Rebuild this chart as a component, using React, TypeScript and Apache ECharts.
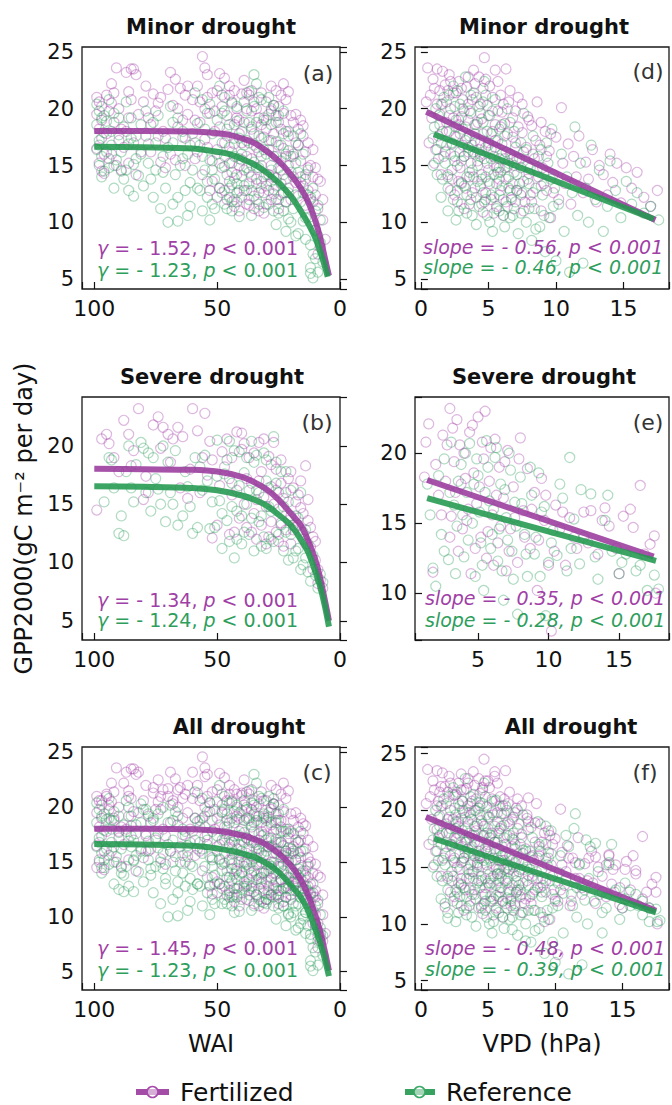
import React, { useEffect, useRef } from 'react';
import * as echarts from 'echarts';

// ---------------- DATA ----------------
// Minor drought, WAI vs GPP2000
const minorWaiFert: number[][] = [
  [99,21.0],[98,20.6],[97,20.2],[99,19.5],[98,18.2],[97,17.4],[99,16.5],[98,15.2],[97,14.5],[96,14.3],
  [95,21.2],[93,20.5],[91,23.6],[94,19.8],[92,18.8],[90,17.2],[93,16.0],[91,15.0],[89,14.6],[92,21.4],
  [87,23.2],[85,23.5],[84,23.5],[83,23.0],[86,21.5],[85,20.8],[82,19.5],[87,18.0],[84,17.0],[86,15.2],[83,14.2],[81,16.2],
  [79,22.0],[76,21.3],[74,20.5],[78,19.2],[72,18.0],[75,17.0],[77,16.2],[73,15.3],[71,14.8],[70,21.7],
  [69,23.2],[67,22.6],[65,21.8],[63,21.2],[68,20.3],[62,19.5],[66,18.4],[64,17.5],[61,16.8],[67,15.5],[63,15.0],[60,20.8],
  [56,24.6],[55,23.6],[54,23.0],[58,22.0],[52,21.4],[57,20.6],[53,19.6],[59,19.0],[51,18.0],[55,17.3],[58,16.2],[52,15.4],[56,14.2],[53,12.8],[50,12.2],[54,21.0],
  [49,23.1],[47,22.7],[45,22.0],[48,21.2],[44,20.6],[42,20.0],[46,19.4],[43,18.6],[41,17.8],[47,17.0],[44,16.2],[40,15.5],[48,14.8],[45,13.6],[42,12.6],[46,12.0],[43,11.4],[41,11.0],[49,13.0],[44,14.4],[47,15.8],[42,19.2],[40,21.3],
  [39,22.5],[37,21.2],[35,20.6],[38,20.0],[33,19.2],[36,18.2],[31,17.5],[34,16.6],[38,15.8],[32,15.0],[36,14.0],[30,13.2],[35,12.3],[37,11.5],[33,11.0],[31,10.8],[39,12.8],[34,13.8],[32,18.6],[36,21.6],
  [28,22.0],[26,21.6],[24,21.2],[27,20.3],[29,19.5],[25,18.8],[22,18.0],[28,17.2],[23,16.5],[26,15.8],[21,15.0],[29,14.2],[24,13.4],[27,12.5],[22,11.8],[25,11.2],[23,22.2],[21,21.5],[28,12.0],[26,13.9],
  [19,18.8],[17,18.2],[15,17.6],[18,17.0],[14,16.2],[16,15.4],[13,14.8],[19,14.0],[15,13.2],[17,12.3],[14,11.5],[12,15.0],[16,19.0],[13,12.8],
  [11,14.0],[8,13.6],[10,12.4],[9,11.2],[7,10.2],[10,9.3],[6,8.5],[8,7.8],[9,7.2],[11,11.8],
  [97,19.0],[96,16.0],[95,17.8],[94,15.6],[93,22.2],[90,20.0],[89,18.2],[88,16.6],[86,19.2],[80,20.6],[79,17.6],[77,18.6],
  [75,19.8],[73,21.0],[71,17.4],[69,16.0],[66,20.0],[64,19.0],[62,22.0],[60,17.8],[59,15.6],[57,18.8],[55,20.0],[54,16.6],
  [52,13.6],[51,19.8],[50,21.6],[50,16.4],[49,18.4],[48,20.2],[47,12.8],[46,17.6],[45,15.2],[45,21.2],[44,11.8],[43,16.9],
  [43,21.6],[42,14.2],[41,19.0],[41,15.0],[40,12.2],[40,17.0],[39,18.8],[39,14.6],[38,21.4],[38,11.6],[37,17.0],[37,13.4],
  [36,19.8],[36,15.6],[35,17.8],[35,11.2],[34,20.0],[34,14.8],[33,12.6],[33,16.2],[32,21.4],[32,13.0],[31,19.0],[31,14.0],
  [30,18.2],[30,11.6],[30,20.6],[29,16.4],[29,12.8],[28,19.8],[28,15.0],[27,17.8],[27,14.0],[26,19.4],[26,12.0],[25,16.8],
  [25,20.2],[24,14.6],[24,18.2],[23,12.6],[23,19.6],[22,15.8],[22,20.8],[21,17.6],[21,13.0],[20,19.4],[20,15.8],[20,12.0],
  [19,16.0],[18,19.5],[18,13.5],[17,16.8],[16,14.0],[15,18.5],[14,13.8],[13,17.0],[12,12.0],[11,16.4],[10,14.8],[9,13.8],[7,12.0]
];
const minorWaiRef: number[][] = [
  [99,20.4],[98,19.8],[97,19.2],[99,18.6],[96,17.9],[98,17.2],[99,16.4],[97,15.8],[98,15.0],[96,14.5],[97,14.0],
  [94,20.8],[92,19.6],[95,18.9],[90,17.7],[93,16.8],[91,15.5],[94,14.8],[89,14.5],[92,13.0],
  [87,20.6],[85,19.2],[88,18.4],[83,17.6],[86,16.9],[81,16.0],[84,15.1],[82,14.1],[88,13.8],[86,12.8],[84,12.3],
  [79,19.8],[76,18.8],[74,17.6],[78,16.9],[72,15.8],[75,14.6],[77,13.8],[71,13.0],[73,11.2],[70,10.0],
  [69,20.2],[66,19.2],[64,18.0],[68,17.0],[62,16.0],[65,15.0],[67,14.2],[61,13.5],[63,12.8],[68,11.6],[62,10.6],[66,10.1],
  [59,21.4],[56,20.8],[54,19.6],[58,18.7],[52,17.8],[57,16.8],[53,15.5],[55,14.6],[51,13.8],[58,13.0],[54,12.2],[52,11.6],[56,11.0],[53,10.2],
  [49,22.0],[47,21.0],[44,20.5],[48,19.6],[42,18.9],[46,18.2],[41,17.4],[45,16.6],[43,15.8],[47,14.9],[40,14.1],[44,13.3],[48,12.6],[42,11.8],[46,11.2],[41,10.5],[45,12.2],[43,13.9],
  [35,23.0],[34,22.2],[37,21.5],[32,20.8],[38,19.8],[31,19.2],[36,18.4],[33,17.6],[39,16.8],[30,16.0],[35,15.3],[37,14.4],[32,13.6],[38,12.8],[34,12.0],[31,11.3],[36,10.6],[33,14.8],
  [29,21.0],[27,20.3],[25,19.4],[28,18.6],[23,17.8],[26,17.1],[21,16.3],[24,15.4],[28,14.6],[22,13.8],[27,12.9],[25,12.0],[23,11.0],[21,10.3],[26,9.8],[22,9.2],
  [19,17.6],[17,16.8],[15,16.0],[18,15.2],[14,14.2],[16,13.5],[13,12.4],[19,11.2],[15,10.1],[17,9.0],[14,8.5],
  [11,13.0],[9,11.5],[12,10.5],[10,9.3],[8,8.2],[11,7.2],[7,6.5],[12,6.0],[12,5.5],[11,5.1],
  [98,16.8],[96,19.4],[95,16.2],[93,18.0],[92,15.0],[90,19.2],[89,16.2],[87,14.6],[85,17.4],[83,15.6],[81,18.6],[80,13.2],
  [78,15.2],[76,12.2],[74,19.4],[72,14.4],[70,16.6],[68,18.8],[66,12.2],[64,15.6],[63,17.4],[61,11.4],[60,14.6],[59,17.0],
  [57,12.8],[56,15.8],[55,18.2],[54,13.6],[53,20.4],[52,14.6],[51,11.2],[50,16.0],[50,19.0],[49,13.0],[49,15.2],[48,17.0],
  [47,11.6],[47,19.8],[46,14.2],[45,13.0],[45,18.6],[44,15.2],[44,11.0],[43,17.4],[43,12.0],[42,20.2],[42,13.4],[41,15.6],
  [41,12.8],[40,18.0],[40,16.0],[39,13.2],[39,20.6],[38,14.8],[38,17.2],[37,12.0],[37,18.8],[36,15.0],[36,12.8],[35,16.8],
  [35,20.2],[34,13.4],[34,18.8],[33,11.6],[33,21.0],[32,15.8],[32,17.4],[31,12.6],[31,16.4],[30,14.2],[30,19.0],[29,11.6],
  [29,17.2],[28,13.6],[28,20.0],[27,15.8],[27,11.0],[26,13.2],[26,18.8],[25,14.8],[25,10.8],[24,16.8],[24,12.4],[23,14.2],
  [23,19.8],[22,16.0],[22,11.8],[21,18.0],[21,12.6],[20,14.4],[20,10.0],[19,15.8],[18,12.4],[18,8.8],[17,14.4],[16,11.8],
  [16,17.8],[15,12.6],[14,10.4],[13,14.6],[12,8.0],[12,12.2],[10,11.0],[9,8.8],[8,10.2],[10,6.8],[9,5.6]
];
// Severe drought, WAI vs GPP2000
const severeWaiFert: number[][] = [
  [99,14.5],[95,21.0],[94,20.2],[92,19.0],[88,22.2],[85,18.3],[82,23.2],[78,16.0],[80,15.4],[76,21.8],[74,22.5],[72,21.6],
  [70,21.0],[68,20.6],[66,21.6],[65,16.4],[62,15.5],[60,23.2],[58,21.3],[56,19.0],[55,22.8],[54,17.5],[52,18.8],[52,12.1],
  [50,13.2],[48,19.5],[46,20.6],[45,17.2],[44,15.8],[43,12.6],[42,21.2],[40,21.1],[40,19.7],[39,15.0],[38,13.0],[37,19.0],
  [36,16.8],[35,14.2],[34,12.0],[33,20.3],[32,17.8],[31,15.6],[30,11.6],[29,19.1],[28,16.5],[28,13.5],[27,20.3],[26,18.0],
  [25,14.6],[25,11.8],[24,16.8],[23,15.5],[22,12.8],[21,17.2],[20,14.0],[19,16.4],[18,13.0],[17,15.8],[16,14.7],[15,12.0],
  [14,18.3],[13,13.6],[12,11.3],[11,12.2],[10,10.2],[9,9.4],[8,8.5],[7,7.8],
  [97,20.6],[90,17.8],[86,21.0],[84,19.6],[79,17.4],[73,19.8],[69,18.6],[64,20.8],[61,18.0],[57,16.0],[53,20.4],[49,16.6],
  [47,18.2],[45,12.4],[44,19.0],[42,16.2],[41,13.8],[39,20.2],[38,17.2],[36,12.6],[35,19.4],[34,15.4],[33,17.0],[32,13.2],
  [31,20.6],[30,14.8],[29,12.2],[28,18.4],[27,15.0],[26,12.6],[26,16.2],[24,18.8],[24,13.4],[23,11.4],[22,16.0],[21,13.6],
  [20,17.8],[20,11.6],[19,12.8],[18,15.2],[17,13.2],[16,17.0],[15,14.2],[14,11.6],[13,15.4],[12,13.0],[11,9.4],[10,11.8],[9,8.2]
];
const severeWaiRef: number[][] = [
  [94,19.0],[93,18.8],[90,12.5],[88,12.3],[87,17.8],[85,16.4],[84,15.2],[81,20.3],[80,19.8],[78,19.4],[77,14.4],[75,17.2],
  [74,16.3],[72,20.0],[71,13.5],[70,18.6],[68,15.0],[66,13.2],[64,14.0],[62,16.5],[60,12.5],[58,13.0],[57,18.2],[55,19.2],
  [53,12.9],[52,15.2],[50,20.5],[49,15.3],[48,11.2],[47,17.6],[46,13.6],[45,20.4],[44,16.8],[43,10.4],[42,14.4],[41,19.5],
  [40,11.6],[39,17.7],[38,15.0],[37,12.4],[36,20.4],[35,18.6],[34,16.2],[33,13.5],[32,11.4],[31,19.4],[30,17.0],[29,14.8],
  [28,12.0],[27,20.8],[26,18.6],[25,16.0],[24,13.2],[23,11.0],[22,17.8],[21,15.2],[20,12.4],[19,10.4],[18,14.0],[17,11.2],
  [16,16.0],[15,9.8],[14,12.8],[13,9.2],[12,8.4],[11,10.6],[10,8.9],[9,7.8],[8,9.0],[7,8.3],
  [96,15.2],[92,16.4],[89,14.0],[86,20.0],[83,18.4],[79,16.0],[76,19.0],[73,15.0],[69,16.0],[67,19.6],[63,17.8],[61,14.8],
  [59,19.0],[56,16.2],[54,17.0],[51,13.0],[50,17.4],[48,14.2],[46,18.8],[45,11.8],[44,14.8],[43,19.6],[42,12.0],[41,16.6],
  [40,14.0],[39,12.6],[38,19.0],[37,16.2],[36,13.8],[35,11.0],[34,19.2],[33,16.0],[32,14.0],[31,12.2],[30,18.8],[30,11.2],
  [29,16.4],[28,14.4],[27,11.8],[26,16.8],[25,12.4],[24,17.8],[23,14.8],[22,12.6],[21,10.2],[20,16.2],[19,13.2],[18,11.0],
  [17,13.8],[16,9.4],[15,12.6],[14,10.4],[13,11.6]
];
// Minor drought, VPD vs GPP2000
const minorVpdFert: number[][] = [
  [0.5,23.6],[0.4,20.6],[0.8,19.2],[1.0,21.8],[1.2,23.5],[1.3,17.6],[1.5,20.4],[1.6,23.3],[1.7,15.8],[1.8,22.1],[1.9,18.8],
  [2.0,14.2],[2.1,23.0],[2.2,20.0],[2.3,16.9],[2.4,21.4],[2.5,12.4],[2.6,19.0],[2.7,15.0],[2.8,22.4],[2.9,17.8],[3.0,13.5],
  [3.1,20.8],[3.2,11.2],[3.3,18.4],[3.4,21.9],[3.5,16.2],[3.6,14.0],[3.7,19.6],[3.8,12.6],[3.9,23.4],[4.0,17.2],[4.1,21.0],
  [4.2,15.4],[4.3,22.8],[4.4,13.2],[4.5,19.1],[4.6,10.9],[4.7,24.5],[4.8,16.6],[4.9,20.3],[5.0,14.6],[5.1,22.0],[5.2,12.0],
  [5.3,18.0],[5.4,15.8],[5.5,23.4],[5.6,11.4],[5.7,19.8],[5.8,13.8],[5.9,21.2],[6.0,16.9],[6.1,10.6],[6.2,18.7],[6.3,23.5],
  [6.4,14.9],[6.5,20.6],[6.6,12.8],[6.8,17.5],[6.9,11.2],[7.0,19.8],[7.1,15.6],[7.2,21.0],[7.3,13.4],[7.5,17.9],[7.6,16.2],
  [7.7,11.8],[7.9,19.3],[8.0,14.3],[8.1,12.4],[8.2,18.5],[8.4,15.6],[8.5,13.0],[8.6,20.6],[8.8,16.8],[8.9,11.0],[9.0,14.8],
  [9.2,18.0],[9.3,12.8],[9.5,16.3],[9.6,10.4],[9.8,14.2],[10.0,17.5],[10.2,12.0],[10.4,20.1],[10.5,15.2],[10.7,13.4],[10.9,16.9],
  [11.1,11.6],[11.3,15.8],[11.5,14.0],[11.7,17.6],[12.0,12.6],[12.2,15.3],[12.4,13.8],[12.7,16.4],[13.0,11.8],[13.2,15.0],
  [13.5,14.2],[13.8,12.4],[14.0,16.0],[14.2,13.5],[14.5,15.2],[14.8,11.7],[15.2,14.8],[15.6,13.0],[16.0,14.4],[16.5,12.2],
  [17.0,11.4],[17.5,12.8],
  [1.4,19.5],[2.0,21.6],[2.6,17.5],[3.0,19.3],[3.5,20.4],[4.0,18.6],[4.4,16.0],[5.0,17.0],[5.5,18.6],[6.0,19.7],[3.2,15.8],
  [2.2,12.8],[4.8,12.6],[5.8,14.8],[6.6,16.0],[7.4,12.4],[1.1,16.4],[2.8,13.6],[3.8,16.8],[4.6,21.8],
  [0.6,17.0],[0.7,21.2],[0.9,22.6],[1.0,15.2],[1.2,20.4],[1.4,21.6],[1.5,14.2],[1.6,18.0],[1.8,16.2],[1.9,20.6],[2.1,18.0],
  [2.2,22.4],[2.3,13.8],[2.4,19.2],[2.5,15.8],[2.6,21.4],[2.7,11.8],[2.8,18.6],[2.9,14.8],[3.0,21.8],[3.1,16.8],[3.2,19.8],
  [3.3,13.0],[3.4,17.4],[3.5,22.8],[3.6,11.6],[3.7,15.2],[3.8,20.8],[3.9,14.0],[4.0,22.2],[4.1,12.2],[4.2,18.8],[4.3,16.4],
  [4.4,20.4],[4.5,14.2],[4.6,17.8],[4.7,11.8],[4.8,22.6],[4.9,15.2],[5.0,19.4],[5.1,13.4],[5.2,16.4],[5.3,21.0],[5.4,10.8],
  [5.5,17.2],[5.6,14.8],[5.7,22.4],[5.8,12.4],[5.9,18.4],[6.0,13.2],[6.1,20.4],[6.2,15.6],[6.3,11.8],[6.4,17.8],[6.5,14.0],
  [6.6,21.6],[6.7,12.0],[6.8,19.2],[6.9,15.0],[7.0,17.0],[7.1,12.8],[7.2,18.4],[7.4,14.8],[7.5,20.4],[7.6,11.0],[7.8,16.6],
  [7.9,13.8],[8.0,19.0],[8.2,11.8],[8.3,16.0],[8.5,17.2],[8.7,14.0],[8.9,18.8],[9.1,13.4],[9.3,15.8],[9.6,17.8],[9.8,12.6]
];
const minorVpdRef: number[][] = [
  [0.9,17.4],[1.1,20.0],[1.3,15.6],[1.4,18.6],[1.6,13.8],[1.7,21.0],[1.9,16.8],[2.0,11.0],[2.1,19.4],[2.3,14.6],[2.4,22.0],
  [2.5,17.6],[2.6,10.2],[2.7,12.8],[2.9,20.4],[3.0,15.4],[3.1,18.2],[3.2,13.2],[3.3,22.8],[3.4,10.8],[3.5,16.6],[3.6,19.8],
  [3.7,12.0],[3.8,14.6],[3.9,21.4],[4.0,17.8],[4.1,9.8],[4.2,13.6],[4.3,20.2],[4.4,15.8],[4.5,11.6],[4.6,18.8],[4.7,22.4],
  [4.8,14.0],[4.9,10.6],[5.0,16.8],[5.1,19.4],[5.2,12.4],[5.3,9.2],[5.4,15.0],[5.5,20.8],[5.6,13.4],[5.7,17.2],[5.8,11.0],
  [5.9,14.4],[6.0,18.6],[6.1,12.0],[6.2,9.6],[6.3,16.2],[6.4,20.0],[6.5,13.0],[6.6,10.4],[6.8,15.6],[6.9,18.0],[7.0,11.8],
  [7.1,14.2],[7.2,9.0],[7.4,17.0],[7.5,12.6],[7.6,19.6],[7.8,10.0],[7.9,15.0],[8.0,13.4],[8.2,8.4],[8.3,17.6],[8.4,11.2],
  [8.6,14.6],[8.8,9.6],[8.9,16.4],[9.0,12.4],[9.2,7.4],[9.4,15.2],[9.5,10.4],[9.7,18.2],[9.9,13.0],[10.0,6.6],[10.2,11.6],
  [10.4,16.0],[10.6,9.2],[10.8,14.0],[11.0,5.6],[11.2,12.6],[11.4,18.4],[11.6,10.6],[11.8,15.2],[12.0,6.4],[12.2,13.0],
  [12.4,10.0],[12.6,16.8],[12.9,12.0],[13.2,14.6],[13.5,9.2],[13.8,11.4],[14.0,15.4],[14.4,12.8],[14.8,10.4],[15.2,13.6],
  [15.6,11.6],[16.0,12.6],[16.5,10.8],[17.0,11.4],[17.6,10.2],
  [1.5,17.0],[2.2,16.0],[2.8,19.0],[3.4,14.0],[4.0,16.0],[4.6,12.6],[5.2,17.8],[5.8,15.6],[3.0,11.6],[2.0,13.0],[4.4,19.6],
  [5.4,14.2],[6.2,14.8],[6.8,13.4],[1.2,14.2],[3.6,17.6],[4.8,21.2],[2.5,20.2],
  [0.9,15.0],[1.0,18.4],[1.2,16.4],[1.3,19.4],[1.5,12.2],[1.6,20.4],[1.8,15.2],[1.9,18.0],[2.0,14.0],[2.1,21.2],[2.3,17.0],
  [2.4,12.0],[2.5,15.4],[2.6,18.4],[2.7,21.6],[2.8,11.0],[2.9,16.2],[3.0,13.4],[3.1,20.0],[3.2,15.8],[3.3,17.2],[3.4,12.4],
  [3.5,19.0],[3.6,14.4],[3.7,21.2],[3.8,10.6],[3.9,16.2],[4.0,13.0],[4.1,18.6],[4.2,15.0],[4.3,11.4],[4.4,17.0],[4.5,13.8],
  [4.6,20.6],[4.7,15.6],[4.8,12.0],[4.9,18.0],[5.0,13.6],[5.1,10.0],[5.2,15.6],[5.3,19.8],[5.4,12.2],[5.5,16.6],[5.6,11.2],
  [5.7,14.4],[5.8,18.2],[5.9,12.8],[6.0,16.0],[6.1,10.6],[6.2,17.6],[6.3,13.8],[6.4,11.4],[6.5,15.2],[6.6,18.8],[6.7,12.2],
  [6.8,10.6],[6.9,14.4],[7.0,16.6],[7.1,12.8],[7.3,15.6],[7.4,10.8],[7.6,13.6],[7.8,16.4],[8.0,11.2],[8.1,14.8],[8.3,12.6],
  [8.5,9.4],[8.7,15.8],[8.9,13.2],[9.1,10.6],[9.3,17.0],[9.6,13.8],[9.8,11.4]
];
// Severe drought, VPD vs GPP2000
const severeVpdFert: number[][] = [
  [1.2,18.3],[1.5,22.1],[1.8,11.5],[2.2,17.0],[2.5,21.3],[2.8,20.6],[3.0,23.2],[3.1,15.5],[3.3,19.4],[3.5,22.4],[3.6,13.0],
  [3.8,17.8],[4.0,20.0],[4.2,15.2],[4.4,21.5],[4.5,11.4],[4.7,18.6],[4.9,16.4],[5.0,22.6],[5.2,14.0],[5.3,20.8],[5.5,23.0],
  [5.6,12.5],[5.8,18.0],[6.0,15.6],[6.2,21.0],[6.4,13.6],[6.5,19.0],[6.8,16.8],[7.0,11.6],[7.1,20.2],[7.3,14.6],[7.5,17.6],
  [7.8,12.2],[8.0,21.1],[8.2,15.9],[8.5,18.9],[8.7,13.2],[9.0,17.2],[9.2,10.2],[9.5,18.2],[9.7,15.2],[10.0,12.0],[10.2,7.3],
  [10.5,16.3],[10.8,14.6],[11.2,12.0],[11.5,15.4],[12.0,13.2],[12.5,15.8],[13.0,15.9],[13.5,12.8],[14.0,16.1],[14.3,14.8],
  [15.0,11.4],[15.3,15.5],[16.0,14.7],[16.5,17.7],[17.2,13.5],[17.5,14.1],[17.6,10.0],
  [1.3,20.8],[2.0,19.2],[2.4,15.6],[2.7,18.0],[3.0,14.0],[3.2,21.8],[3.4,17.2],[3.7,20.6],[3.9,14.6],[4.1,18.2],[4.3,16.0],
  [4.6,22.0],[4.8,13.2],[5.1,17.6],[5.4,19.6],[5.7,14.4],[5.9,20.4],[6.1,12.0],[6.3,17.0],[6.6,14.8],[6.9,19.4],[7.2,13.0],
  [7.6,15.4],[7.9,19.6],[8.3,14.0],[8.8,16.0],[9.3,13.8],[9.8,17.0],[10.4,13.0],[11.0,15.8],[11.8,14.0],[12.8,13.6],
  [13.8,15.2],[14.8,13.2],[15.8,16.0],[16.8,12.8]
];
const severeVpdRef: number[][] = [
  [1.4,17.8],[1.8,11.8],[2.0,10.5],[2.4,14.2],[2.6,19.6],[2.9,12.4],[3.1,20.8],[3.3,16.3],[3.5,14.8],[3.8,19.2],[4.0,12.6],
  [4.2,17.2],[4.4,20.7],[4.6,15.0],[4.8,11.2],[5.0,18.4],[5.2,13.6],[5.4,10.2],[5.6,20.9],[5.8,16.6],[6.0,14.2],[6.2,19.7],
  [6.4,12.3],[6.6,17.8],[6.8,9.5],[7.0,15.4],[7.2,20.0],[7.4,13.0],[7.6,16.5],[7.8,8.5],[8.0,18.3],[8.3,14.2],[8.5,11.2],
  [8.8,17.0],[9.0,12.8],[9.3,18.6],[9.5,15.8],[9.8,8.4],[10.0,12.2],[10.3,14.5],[10.6,12.7],[11.0,16.8],[11.3,11.6],[11.5,19.7],
  [11.8,15.3],[12.2,12.1],[12.5,14.0],[13.0,17.1],[13.5,11.0],[14.0,15.2],[14.5,13.0],[15.0,11.4],[15.5,12.8],[16.2,11.6],
  [17.0,10.2],[17.5,11.3],[17.8,10.3],
  [1.6,15.6],[2.2,18.4],[2.6,13.0],[3.0,17.2],[3.4,11.4],[3.6,18.0],[3.9,15.6],[4.1,20.0],[4.3,13.8],[4.7,17.8],[4.9,19.6],
  [5.1,15.8],[5.3,12.0],[5.5,17.2],[5.7,19.0],[5.9,13.2],[6.1,16.0],[6.3,20.4],[6.5,14.6],[6.7,11.6],[6.9,17.4],[7.1,13.8],
  [7.3,18.8],[7.5,11.0],[7.7,14.8],[8.1,16.4],[8.4,12.8],[8.7,19.0],[9.1,14.0],[9.4,11.2],[9.7,16.2],[10.2,13.6],[10.8,17.8],
  [11.6,13.2],[12.3,17.4],[13.3,12.6],[14.2,17.0],[15.2,12.2],[16.5,12.0]
];
// All drought = minor + severe
const allWaiFert = minorWaiFert.concat(severeWaiFert);
const allWaiRef = minorWaiRef.concat(severeWaiRef);
const allVpdFert = minorVpdFert.concat(severeVpdFert);
const allVpdRef = minorVpdRef.concat(severeVpdRef);

// Fitted curves
const fitMinorWaiFert: number[][] = [[100,18.05],[80,18.05],[60,18.0],[50,17.85],[45,17.7],[40,17.4],[35,17.0],[30,16.3],[25,15.4],[20,14.2],[16,13.0],[13,11.8],[10,10.1],[8,8.6],[6,6.7],[4.5,5.3]];
const fitMinorWaiRef: number[][] = [[100,16.65],[80,16.6],[60,16.5],[50,16.2],[45,16.0],[40,15.6],[35,15.1],[30,14.4],[25,13.5],[20,12.3],[16,11.0],[13,9.9],[10,8.6],[8,7.4],[6,6.0],[5,5.2]];
const fitSevereWaiFert: number[][] = [[100,18.05],[80,18.0],[60,17.95],[50,17.8],[40,17.35],[35,16.9],[30,16.3],[25,15.4],[20,14.2],[16,13.2],[13,11.9],[10,10.2],[8,8.6],[6,6.6],[4.5,5.0]];
const fitSevereWaiRef: number[][] = [[100,16.55],[80,16.5],[60,16.4],[50,16.2],[40,15.75],[35,15.4],[30,14.9],[25,14.1],[20,13.2],[16,12.0],[13,10.9],[10,9.2],[8,7.9],[6,6.1],[4.5,4.5]];
const fitAllWaiFert: number[][] = [[100,18.05],[80,18.05],[60,18.0],[50,17.85],[40,17.45],[35,17.1],[30,16.6],[25,15.8],[20,14.7],[16,13.4],[13,12.0],[10,10.1],[8,8.6],[6,6.7],[4.5,5.1]];
const fitAllWaiRef: number[][] = [[100,16.65],[80,16.6],[60,16.5],[50,16.25],[40,15.8],[35,15.45],[30,14.9],[25,14.1],[20,12.9],[16,11.8],[13,10.6],[10,8.9],[8,7.6],[6,6.0],[4.5,4.6]];
const fitMinorVpdFert: number[][] = [[0.4,19.74],[17.35,10.2]];
const fitMinorVpdRef: number[][] = [[0.97,17.75],[17.23,10.29]];
const fitSevereVpdFert: number[][] = [[1.39,18.09],[17.45,12.61]];
const fitSevereVpdRef: number[][] = [[1.39,16.79],[17.62,12.31]];
const fitAllVpdFert: number[][] = [[0.37,19.42],[17.5,11.16]];
const fitAllVpdRef: number[][] = [[0.97,17.52],[17.5,11.02]];

const titles = ['Minor drought', 'Severe drought', 'All drought'];
const tags = ['(a)', '(b)', '(c)', '(d)', '(e)', '(f)'];
const gammaFert = ['- 1.52', '- 1.34', '- 1.45'];
const gammaRef = ['- 1.23', '- 1.24', '- 1.23'];
const slopeFert = ['- 0.56', '- 0.35', '- 0.48'];
const slopeRef = ['- 0.46', '- 0.28', '- 0.39'];
const legendNames = ['Fertilized', 'Reference'];
const yAxisName = 'GPP2000(gC m\u207B\u00B2 per day)';
const waiName = 'WAI';
const vpdName = 'VPD (hPa)';

// ---------------- STYLE / LAYOUT ----------------
const FONT = 'DejaVu Sans';
const P_LINE = '#9a3a9d';
const G_LINE = '#22994f';
const P_PT = 'rgba(160,55,165,0.45)';
const G_PT = 'rgba(35,155,85,0.45)';
const P_TXT = '#a03fa6';
const G_TXT = '#2e9e5c';

const layout = [
  { left: 82, top: 47, w: 258, h: 242, yMin: 4.12, yMax: 25.44 },
  { left: 82, top: 397, w: 258, h: 243, yMin: 3.35, yMax: 24.2 },
  { left: 82, top: 747, w: 258, h: 243, yMin: 3.33, yMax: 25.5 },
  { left: 415, top: 47, w: 259, h: 242, yMin: 4.12, yMax: 25.44, xMin: -0.435, xMax: 18.36 },
  { left: 415, top: 397, w: 259, h: 243, yMin: 6.66, yMax: 24.02, xMin: 0.528, xMax: 18.54 },
  { left: 415, top: 747, w: 259, h: 243, yMin: 4.18, yMax: 25.58, xMin: -0.438, xMax: 18.47 },
];
const titlePos = [[211, 27], [212, 377], [239, 727], [544, 27], [544, 377], [571, 727]];
const tagPos = [[318, 73], [317, 422], [317, 772], [648, 71], [648, 422], [645, 772]];
const statPos = [[97, 248, 270], [97, 600, 620], [97, 948, 970], [423, 247, 267], [425, 598, 620], [425, 948, 969]];

const mult = (step: number) => (v: number) => {
  const r = Math.round(v / step) * step;
  return Math.abs(v - r) < 1e-6 ? String(Math.round(r)) : '';
};

function buildOption(): any {
  const scatterSets = [
    [minorWaiFert, minorWaiRef], [severeWaiFert, severeWaiRef], [allWaiFert, allWaiRef],
    [minorVpdFert, minorVpdRef], [severeVpdFert, severeVpdRef], [allVpdFert, allVpdRef],
  ];
  const fitSets = [
    [fitMinorWaiFert, fitMinorWaiRef], [fitSevereWaiFert, fitSevereWaiRef], [fitAllWaiFert, fitAllWaiRef],
    [fitMinorVpdFert, fitMinorVpdRef], [fitSevereVpdFert, fitSevereVpdRef], [fitAllVpdFert, fitAllVpdRef],
  ];
  const grid: any[] = [];
  const xAxis: any[] = [];
  const yAxis: any[] = [];
  const series: any[] = [];
  const graphic: any[] = [];
  const tick = { inside: true, length: 7, lineStyle: { color: '#111', width: 1.2 } };

  layout.forEach((L, i) => {
    const isWai = i < 3;
    grid.push({ left: L.left, top: L.top, width: L.w, height: L.h, show: true, borderColor: '#1a1a1a', borderWidth: 1.3, backgroundColor: 'transparent', containLabel: false });
    xAxis.push({
      type: 'value', gridIndex: i,
      min: isWai ? 0 : L.xMin, max: isWai ? 105 : L.xMax,
      inverse: isWai,
      minInterval: isWai ? 50 : 5, maxInterval: isWai ? 50 : 5,
      axisLine: { show: false }, splitLine: { show: false }, axisTick: tick,
      axisLabel: { formatter: mult(isWai ? 50 : 5), fontSize: 22, fontFamily: FONT, color: '#111', margin: 8 },
      name: i === 2 ? waiName : i === 5 ? vpdName : '',
      nameLocation: 'middle', nameGap: 42,
      nameTextStyle: { fontSize: 24, fontFamily: FONT, color: '#111' },
    });
    yAxis.push({
      type: 'value', gridIndex: i, min: L.yMin, max: L.yMax,
      minInterval: 5, maxInterval: 5,
      axisLine: { show: false }, splitLine: { show: false }, axisTick: tick,
      axisLabel: { formatter: mult(5), fontSize: 21, fontFamily: FONT, color: '#111', margin: 8 },
      name: i === 1 ? yAxisName : '',
      nameLocation: 'middle', nameGap: 46, nameRotate: 90,
      nameTextStyle: { fontSize: 24, fontFamily: FONT, color: '#111' },
    });
    const [sf, sr] = scatterSets[i];
    const [ff, fr] = fitSets[i];
    series.push({ type: 'scatter', name: legendNames[0], xAxisIndex: i, yAxisIndex: i, data: sf, symbol: 'circle', symbolSize: 10, itemStyle: { color: 'rgba(0,0,0,0)', borderColor: P_PT, borderWidth: 1.2 }, z: 2 });
    series.push({ type: 'scatter', name: legendNames[1], xAxisIndex: i, yAxisIndex: i, data: sr, symbol: 'circle', symbolSize: 10, itemStyle: { color: 'rgba(0,0,0,0)', borderColor: G_PT, borderWidth: 1.2 }, z: 2 });
    series.push({ type: 'line', name: legendNames[0], xAxisIndex: i, yAxisIndex: i, data: ff, showSymbol: false, smooth: isWai ? 0.3 : false, lineStyle: { color: P_LINE, width: 6, opacity: 0.88 }, z: 3 });
    series.push({ type: 'line', name: legendNames[1], xAxisIndex: i, yAxisIndex: i, data: fr, showSymbol: false, smooth: isWai ? 0.3 : false, lineStyle: { color: G_LINE, width: 6, opacity: 0.88 }, z: 4 });

    const row = i % 3;
    graphic.push({ type: 'text', x: titlePos[i][0], y: titlePos[i][1], style: { text: titles[row], fontSize: 21, fontWeight: 'bold', fontFamily: FONT, fill: '#111', align: 'center', verticalAlign: 'middle', textAlign: 'center', textVerticalAlign: 'middle' } });
    graphic.push({ type: 'text', x: tagPos[i][0], y: tagPos[i][1], style: { text: tags[i], fontSize: 22, fontFamily: FONT, fill: '#333', align: 'center', verticalAlign: 'middle', textAlign: 'center', textVerticalAlign: 'middle' } });
    const [sx, sy1, sy2] = statPos[i];
    if (isWai) {
      const mk = (val: string, col: string, y: number) => ({
        type: 'text', x: sx, y,
        style: {
          text: `{i|\u03B3} = ${val}, {i|p} < 0.001`, fontSize: 19, fontFamily: FONT, fill: col,
          rich: { i: { fontStyle: 'italic', fontSize: 19, fontFamily: FONT, fill: col } },
          align: 'left', verticalAlign: 'middle', textAlign: 'left', textVerticalAlign: 'middle',
        },
      });
      graphic.push(mk(gammaFert[row], P_TXT, sy1));
      graphic.push(mk(gammaRef[row], G_TXT, sy2));
    } else {
      const mk = (val: string, col: string, y: number) => ({
        type: 'text', x: sx, y,
        style: {
          text: `slope = ${val}, p < 0.001`, fontSize: 19, fontStyle: 'italic', fontFamily: FONT, fill: col,
          align: 'left', verticalAlign: 'middle', textAlign: 'left', textVerticalAlign: 'middle',
        },
      });
      graphic.push(mk(slopeFert[row], P_TXT, sy1));
      graphic.push(mk(slopeRef[row], G_TXT, sy2));
    }
  });

  // legend
  const legendSpec = [
    { x1: 136, x2: 169, cx: 152.5, tx: 180, line: P_LINE, pt: '#a54aab', name: legendNames[0] },
    { x1: 405, x2: 435, cx: 419.5, tx: 446, line: G_LINE, pt: '#3aa866', name: legendNames[1] },
  ];
  legendSpec.forEach((s) => {
    graphic.push({ type: 'line', shape: { x1: s.x1, y1: 1092, x2: s.x2, y2: 1092 }, style: { stroke: s.line, lineWidth: 6, opacity: 0.9 } });
    graphic.push({ type: 'circle', shape: { cx: s.cx, cy: 1092, r: 5.5 }, style: { fill: 'rgba(255,255,255,0.55)', stroke: s.pt, lineWidth: 1.5 } });
    graphic.push({ type: 'text', x: s.tx, y: 1092, style: { text: s.name, fontSize: 25, lineHeight: 24, fontFamily: FONT, fill: '#111', align: 'left', verticalAlign: 'middle', textAlign: 'left', textVerticalAlign: 'middle' } });
  });

  return {
    animation: false,
    backgroundColor: '#ffffff',
    textStyle: { fontFamily: FONT },
    grid, xAxis, yAxis, series, graphic,
  };
}

export default function App() {
  const ref = useRef<HTMLDivElement>(null);
  useEffect(() => {
    if (!ref.current) return;
    const chart = echarts.init(ref.current, undefined, { renderer: 'svg' });
    chart.setOption(buildOption());
    return () => chart.dispose();
  }, []);
  return <div ref={ref} style={{ position: 'absolute', left: 0, top: 0, width: 672, height: 1105, background: '#fff' }} />;
}
